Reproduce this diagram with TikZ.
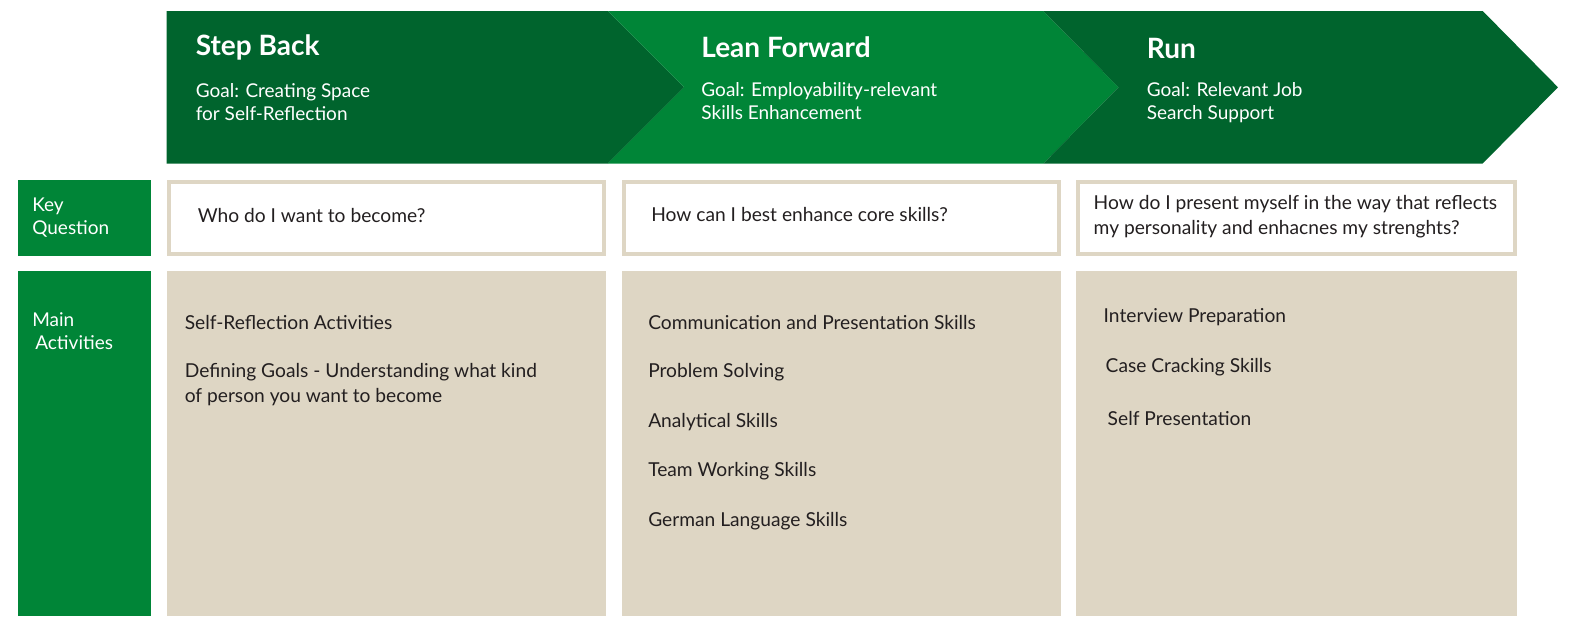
\documentclass[tikz,border=0pt]{standalone}
\usepackage{fontspec}
\setmainfont{Lato}
\definecolor{darkg}{HTML}{00642D}
\definecolor{lightg}{HTML}{008537}
\definecolor{beige}{HTML}{DED6C4}
\definecolor{txt}{HTML}{231F20}
\tikzset{
  head/.style={anchor=west, text=white, font=\fontsize{28}{32}\selectfont\bfseries, inner sep=0pt},
  goal/.style={anchor=west, text=white, font=\fontsize{19}{23}\selectfont, align=left, inner sep=0pt},
  side/.style={anchor=west, text=white, font=\fontsize{19}{23}\selectfont, align=left, inner sep=0pt},
  body/.style={anchor=west, text=txt, font=\fontsize{19.2}{25}\selectfont, align=left, inner sep=0pt},
  sidebox/.style={fill=lightg, draw=none},
  qbox/.style={fill=white, draw=beige, line width=4pt},
  abox/.style={fill=beige, draw=none}
}
\begin{document}
\begin{tikzpicture}[x=1.0032pt,y=-1.0032pt]
\useasboundingbox (0,0) rectangle (1568,621);
% chevrons
\fill[darkg] (166,11) -- (606,11) -- (682,87) -- (606,163) -- (166,163) -- cycle;
\fill[lightg] (606,11) -- (1040,11) -- (1115,87) -- (1040,163) -- (606,163) -- (682,87) -- cycle;
\fill[darkg] (1040,11) -- (1478,11) -- (1553,87) -- (1478,163) -- (1040,163) -- (1115,87) -- cycle;
\node[head] (h1) at (195,47) {Step Back};
\node[goal] (g1) at (195,102) {Goal: Creating Space\\for Self-Reflection};
\node[head] (h2) at (699,47) {Lean Forward};
\node[goal] (g2) at (699,101) {Goal: Employability-relevant\\Skills Enhancement};
\node[head] (h3) at (1143,48) {Run};
\node[goal] (g3) at (1143,102) {Goal: Relevant Job\\Search Support};
% side labels
\fill[sidebox] (18,179) rectangle (151,255);
\fill[sidebox] (18,270) rectangle (151,614);
\node[side] (kq) at (32,217) {Key\\Question};
\node[side] (ma) at (32,330) {Main\\\hspace{3pt}Activities};
% key question boxes
\draw[qbox] (168,181) rectangle (602,253);
\draw[qbox] (622,181) rectangle (1056,253);
\draw[qbox] (1075,181) rectangle (1510,253);
\node[body] (q1) at (197,215) {Who do I want to become?};
\node[body] (q2) at (649,214) {How can I best enhance core skills?};
\node[body] (q3) at (1090,216) {How do I present myself in the way that reflects\\my personality and enhacnes my strenghts?};
% activity boxes
\fill[abox] (166,270) rectangle (604,614);
\fill[abox] (620,270) rectangle (1058,614);
\fill[abox] (1073,270) rectangle (1512,614);
\node[body] (a11) at (184,321) {Self-Reflection Activities};
\node[body] (a12) at (184,383) {Defining Goals - Understanding what kind\\of person you want to become};
\node[body] (a21) at (646,321) {Communication and Presentation Skills};
\node[body] (a22) at (646,371) {Problem Solving};
\node[body] (a23) at (646,421) {Analytical Skills};
\node[body] (a24) at (646,470) {Team Working Skills};
\node[body] (a25) at (646,520) {German Language Skills};
\node[body] (a31) at (1100,316) {Interview Preparation};
\node[body] (a32) at (1102,366) {Case Cracking Skills};
\node[body] (a33) at (1104,417) {Self Presentation};
\end{tikzpicture}
\end{document}
